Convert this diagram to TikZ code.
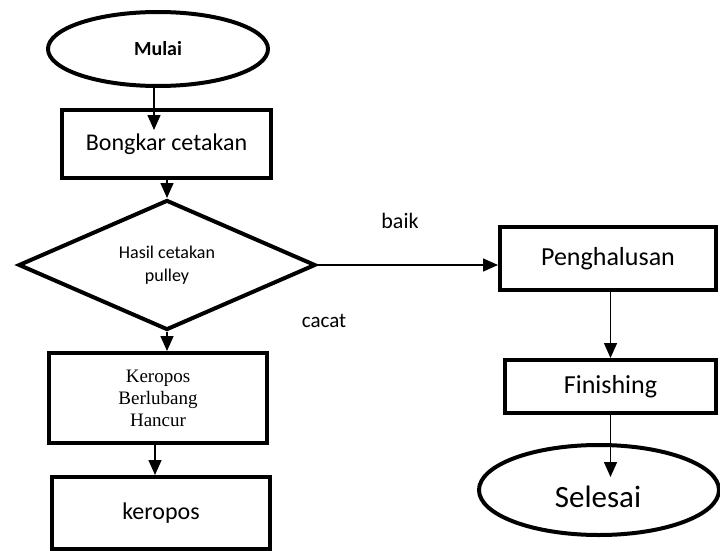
\documentclass[tikz,border=0pt]{standalone}
\usepackage{fontspec}
\setmainfont{Carlito}
\newfontfamily\serifft{Liberation Serif}
\usetikzlibrary{arrows.meta,shapes.geometric}

\begin{document}
\begin{tikzpicture}[x=1pt, y=-1pt,
    proses/.style={draw, line width=4pt, inner sep=0pt, align=center},
    ujung/.style={draw, ellipse, line width=4pt, inner sep=0pt},
    putusan/.style={draw, diamond, aspect=2.3, line width=4pt, inner sep=0pt, align=center},
    panah/.style={line width=1.5pt, -{Triangle[length=15pt, width=13pt]}},
    teks/.style={font=\fontsize{#1}{#1}\selectfont}]
  \useasboundingbox (0,0) rectangle (720,551);
  % kolom kiri
  \node[ujung, minimum width=220, minimum height=74, font=\fontsize{20}{24}\selectfont\bfseries] (mulai) at (158,49) {Mulai};
  \node[proses, minimum width=209, minimum height=68, teks=24] (bongkar) at (166.5,144) {Bongkar cetakan};
  \node[putusan, minimum width=297, minimum height=130, font=\fontsize{18}{23}\selectfont] (hasil) at (167,265) {Hasil cetakan\\pulley};
  \node[proses, minimum width=218, minimum height=90, font=\serifft\fontsize{19}{22}\selectfont] (cacatbox) at (158,398) {Keropos\\Berlubang\\Hancur};
  \node[proses, minimum width=218, minimum height=72, teks=24] (keropos) at (161,513) {keropos};
  % kolom kanan
  \node[proses, minimum width=216, minimum height=63, teks=26] (halus) at (608,258.5) {Penghalusan};
  \node[proses, minimum width=211, minimum height=53, teks=26] (finishing) at (610.5,386.5) {Finishing};
  \node[ujung, minimum width=240, minimum height=90] (selesai) at (599,490) {};
  \node[teks=31] (selesaitxt) at (598,497) {Selesai};
  \coordinate (selesaimasuk) at (610.5,477);
  % label
  \node[teks=22] (baik) at (400,221) {baik};
  \node[teks=21] (cacat) at (324,321) {cacat};
  % panah
  \draw[panah, shorten >=-22pt] (mulai.south -| 154,0) -- (bongkar.north -| 154,0);
  \draw[panah] (bongkar.south -| hasil.north) -- (hasil.north);
  \draw[panah] (hasil.south) -- (hasil.south |- cacatbox.north);
  \draw[panah] (cacatbox.south -| 155,0) -- (keropos.north -| 155,0);
  \draw[panah] (hasil.east) -- (hasil.east -| halus.west);
  \draw[panah] (halus.south -| finishing.north) -- (finishing.north);
  \draw[panah] (finishing.south) -- (selesaimasuk);
\end{tikzpicture}
\end{document}
